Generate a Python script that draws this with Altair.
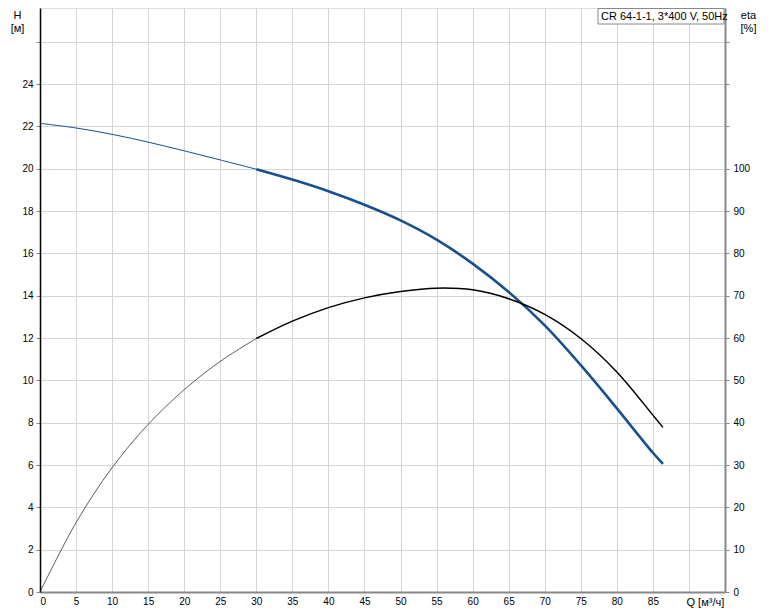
import altair as alt
import pandas as pd

# Flow Q [m3/h]
q = [0, 5, 10, 15, 20, 25, 30, 35, 40, 45, 50, 55, 60, 65, 70, 75, 80, 85, 86.4]
# Head H [m]
h = [22.15, 21.93, 21.63, 21.26, 20.85, 20.42, 19.98, 19.49, 18.94, 18.30,
     17.56, 16.65, 15.52, 14.18, 12.60, 10.72, 8.68, 6.58, 6.05]
# Efficiency eta [%]
eta = [0, 16.4, 29.4, 39.6, 47.8, 54.5, 59.9, 64.0, 67.2, 69.5,
       71.0, 71.8, 71.4, 69.3, 65.6, 59.9, 52.0, 41.8, 38.9]

split_q = 30
title_text = "CR 64-1-1, 3*400 V, 50Hz"

df = pd.DataFrame({"Q": q, "H": h, "eta": eta})
thin = df[df.Q <= split_q]
thick = df[df.Q >= split_q]

FONT = "Liberation Sans"
GRID = "#d4d4d4"
BLUE = "#18508f"
INTERP = "catmull-rom"

xenc = alt.X(
    "Q:Q",
    scale=alt.Scale(domain=[0, 95], nice=False),
    axis=alt.Axis(
        values=list(range(0, 96, 5)),
        labelExpr="datum.value >= 90 ? '' : datum.label",
        title="Q [м³/ч]", titleX=646, titleY=4, titleAlign="left",
        titleBaseline="top", titleFontWeight="normal", titleFontSize=11,
        domainColor="#888", domainWidth=2, ticks=False, labelPadding=4,
        grid=True, gridColor=GRID,
    ),
)

yh = alt.Y(
    "H:Q",
    scale=alt.Scale(domain=[0, 27.6], nice=False),
    axis=alt.Axis(
        values=list(range(0, 27, 2)),
        labelExpr="datum.value > 24 ? '' : datum.label",
        title=["H", "[м]"], titleAngle=0, titleX=-23, titleY=1,
        titleAlign="center", titleBaseline="top", titleFontWeight="normal",
        titleFontSize=11, titleLineHeight=13,
        domainColor="black", domainWidth=1.5, tickSize=4, tickColor="#888",
        labelPadding=3, grid=True, gridColor=GRID,
    ),
)

ye = alt.Y(
    "eta:Q",
    scale=alt.Scale(domain=[0, 138], nice=False),
    axis=alt.Axis(
        orient="right",
        values=list(range(0, 131, 10)),
        labelExpr="datum.value > 100 ? '' : datum.label",
        title=["eta", "[%]"], titleAngle=0, titleX=23, titleY=1,
        titleAlign="center", titleBaseline="top", titleFontWeight="normal",
        titleFontSize=11, titleLineHeight=13,
        domainColor="#888", domainWidth=2, tickSize=4, tickColor="#888",
        labelPadding=4, grid=False,
    ),
)

h_thin = alt.Chart(thin).mark_line(color=BLUE, strokeWidth=1, interpolate=INTERP).encode(x=xenc, y=yh)
h_thick = alt.Chart(thick).mark_line(color=BLUE, strokeWidth=2.6, interpolate=INTERP).encode(x=xenc, y=yh)

box = alt.Chart(pd.DataFrame({"t": [title_text]})).mark_rect(
    fill="white", stroke="#888", strokeWidth=1
).encode(x=alt.value(558), x2=alt.value(684), y=alt.value(0.5), y2=alt.value(16))
box_text = alt.Chart(pd.DataFrame({"t": [title_text]})).mark_text(
    align="left", baseline="middle", font=FONT, fontSize=11, color="black"
).encode(x=alt.value(561), y=alt.value(8.5), text="t:N")

h_layer = alt.layer(h_thin, h_thick, box, box_text)

e_thin = alt.Chart(thin).mark_line(color="#333", strokeWidth=0.8, interpolate=INTERP).encode(x=xenc, y=ye)
e_thick = alt.Chart(thick).mark_line(color="black", strokeWidth=1.5, interpolate=INTERP).encode(x=xenc, y=ye)
e_layer = alt.layer(e_thin, e_thick)

chart = alt.layer(h_layer, e_layer).resolve_scale(y="independent").properties(
    width=685, height=584,
    padding={"left": 32, "top": 0, "right": 40, "bottom": 18},
    autosize=alt.AutoSizeParams(type="none"),
).configure_axis(
    labelFont=FONT, labelFontSize=11, labelColor="black",
    titleFont=FONT, titleColor="black",
).configure_view(stroke="#888", strokeWidth=1).configure(background="white")

chart.save("out.html", embed_options={"renderer": "svg", "actions": False})
